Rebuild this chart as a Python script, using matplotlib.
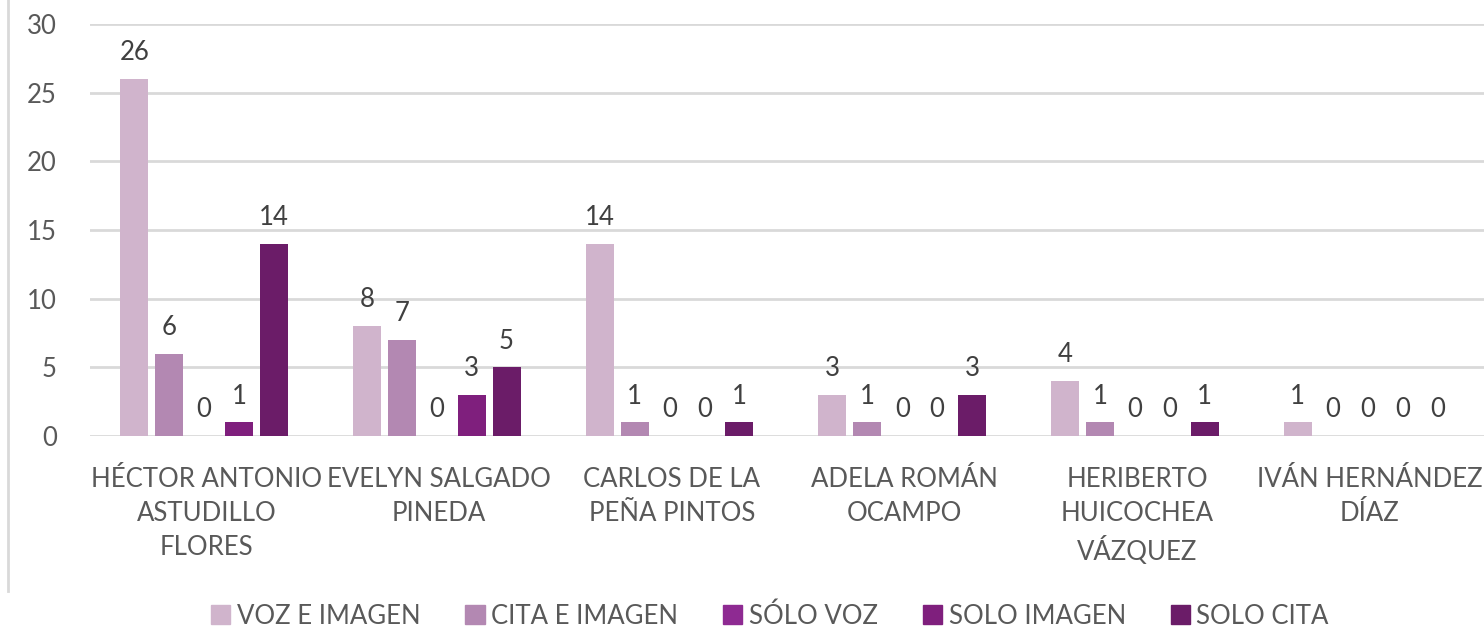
import matplotlib
matplotlib.use("Agg")
import matplotlib.pyplot as plt
import numpy as np
from matplotlib.lines import Line2D

categories = ["HÉCTOR ANTONIO\nASTUDILLO\nFLORES", "EVELYN SALGADO\nPINEDA",
              "CARLOS DE LA\nPEÑA PINTOS", "ADELA ROMÁN\nOCAMPO",
              "HERIBERTO\nHUICOCHEA\nVÁZQUEZ", "IVÁN HERNÁNDEZ\nDÍAZ"]
series_names = ["VOZ E IMAGEN", "CITA E IMAGEN", "SÓLO VOZ", "SOLO IMAGEN", "SOLO CITA"]
voz_e_imagen = [26, 8, 14, 3, 4, 1]
cita_e_imagen = [6, 7, 1, 1, 1, 0]
solo_voz = [0, 0, 0, 0, 0, 0]
solo_imagen = [1, 3, 0, 0, 0, 0]
solo_cita = [14, 5, 1, 3, 1, 0]
yticks = [0, 5, 10, 15, 20, 25, 30]

series = [voz_e_imagen, cita_e_imagen, solo_voz, solo_imagen, solo_cita]
colors = ["#D0B4CC", "#B388B2", "#8E2A92", "#7F1F7D", "#6B1C68"]

FONT = "Lato"
fig = plt.figure(figsize=(14.84, 6.31), dpi=100)
ax = fig.add_axes([90/1484, 195/631, 1 - 90/1484, (436-24)/631])

x = np.arange(len(categories))
slot = 0.15
bw = 0.12
for i, (vals, c, name) in enumerate(zip(series, colors, series_names)):
    pos = x + (i - 2) * slot - 0.01
    ax.bar(pos, vals, width=bw, color=c, label=name, zorder=3)
    for p, v in zip(pos, vals):
        ax.text(p, v + 1.0, str(v), ha="center", va="bottom", fontsize=18.5,
                color="#404040", family=FONT, zorder=4)

ax.set_ylim(0, 30)
ax.set_xlim(-0.5, 5.49)
ax.set_yticks(yticks)
ax.set_yticklabels([str(t) for t in yticks], fontsize=18.5, color="#595959", family=FONT)
ax.set_xticks(x)
ax.set_xticklabels(categories, fontsize=18.5, color="#595959", family=FONT, linespacing=1.45)
ax.tick_params(axis="both", length=0)
ax.tick_params(axis="y", pad=24)
ax.tick_params(axis="x", pad=22)
ax.grid(axis="y", color="#D9D9D9", linewidth=2, zorder=0)
for s in ax.spines.values():
    s.set_visible(False)

fig.add_artist(Line2D([8/1484, 8/1484], [40/631, 1.0], transform=fig.transFigure,
                      color="#D9D9D9", linewidth=2))

handles = [plt.Rectangle((0, 0), 1, 1, color=c) for c in colors]
leg = fig.legend(handles, series_names, loc="center", bbox_to_anchor=(770/1484, 1 - 616/631),
                 ncol=5, frameon=False, handlelength=0.75, handleheight=0.75,
                 handletextpad=0.25, columnspacing=1.75,
                 prop={"family": FONT, "size": 18.5})
for t in leg.get_texts():
    t.set_color("#595959")

fig.savefig("out.png", dpi=100)
